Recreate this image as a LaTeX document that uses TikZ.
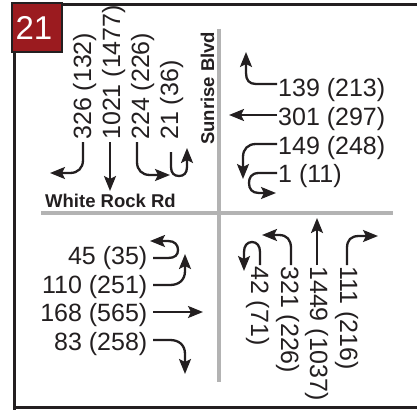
\documentclass[tikz,border=0pt]{standalone}
\usepackage{fontspec}
\setmainfont{Liberation Sans}
\usetikzlibrary{arrows.meta}
\definecolor{ink}{HTML}{231F20}
\definecolor{road}{HTML}{B3B3B3}
\definecolor{badge}{HTML}{9B1B1F}
\begin{document}
\begin{tikzpicture}[x=1pt,y=-1pt,
  lbl/.style={font=\fontsize{25}{30}\selectfont, inner sep=0pt, text=ink},
  street/.style={font=\fontsize{18.5}{22}\selectfont\bfseries, inner sep=0pt, text=ink},
  mv/.style={draw=ink, line width=2.3pt, -{Stealth[length=15pt,width=12pt,inset=3pt]}},
  roadline/.style={draw=road, line width=4.5pt},
  frameline/.style={draw=ink, line width=3pt}]
\useasboundingbox (0,0) rectangle (417,409);
\clip (0,0) rectangle (417,409);
\fill[white] (0,0) rectangle (417,409);
% frame
\draw[frameline] (14,420) -- (14,4.5) -- (430,4.5);
\draw[frameline] (14,407.5) -- (430,407.5);
% badge
\draw[draw=ink, line width=2pt, fill=badge] (12,3) rectangle (62,52);
\node[text=white, font=\fontsize{33}{36}\selectfont, inner sep=0pt] (badge) at (34,28) {21};
% roads
\draw[roadline] (219,29) -- (219,382);
\draw[roadline] (41,213) -- (393,213);
% street names
\node[street, anchor=base west] (wr) at (45,207) {White Rock Rd};
\node[street, anchor=base west, rotate=90] (sb) at (214,145) {Sunrise Blvd};
% NE labels (westbound)
\node[lbl, anchor=base west] (e1) at (278,97) {139 (213)};
\node[lbl, anchor=base west] (e2) at (278,125.5) {301 (297)};
\node[lbl, anchor=base west] (e3) at (278,154) {149 (248)};
\node[lbl, anchor=base west] (e4) at (278,182.5) {1 (11)};
% SW labels (eastbound)
\node[lbl, anchor=base east] (w1) at (147.5,264.5) {45 (35)};
\node[lbl, anchor=base east] (w2) at (147.5,293) {110 (251)};
\node[lbl, anchor=base east] (w3) at (147.5,321.5) {168 (565)};
\node[lbl, anchor=base east] (w4) at (147.5,350) {83 (258)};
% NW labels (southbound)
\node[lbl, anchor=base west, rotate=90] (n1) at (91,140) {326 (132)};
\node[lbl, anchor=base west, rotate=90] (n2) at (120,140) {1021 (1477)};
\node[lbl, anchor=base west, rotate=90] (n3) at (149,140) {224 (226)};
\node[lbl, anchor=base west, rotate=90] (n4) at (178,140) {21 (36)};
% SE labels (northbound)
\node[lbl, anchor=base west, rotate=-90] (s1) at (251,266) {42 (71)};
\node[lbl, anchor=base west, rotate=-90] (s2) at (281,266) {321 (226)};
\node[lbl, anchor=base west, rotate=-90] (s3) at (310,266) {1449 (1037)};
\node[lbl, anchor=base west, rotate=-90] (s4) at (340,266) {111 (216)};
% NE arrows
\draw[mv] (277,84) -- (256,84) .. controls (249,84) and (246,80) .. (246,73) -- (246,52);
\draw[mv] (277,115) -- (229,115);
\draw[mv] (277,144) -- (256,144) .. controls (248,144) and (243,149) .. (243,157) -- (243,179);
\draw[mv] (277,173) -- (259,173) .. controls (251,173) and (249,178) .. (249,183) .. controls (249,189) and (252,193) .. (259,193) -- (276,193);
% NW arrows
\draw[mv] (83,142) -- (83,160) .. controls (83,168) and (78,173) .. (70,173) -- (50,173);
\draw[mv] (110,142) -- (110,191);
\draw[mv] (137,142) -- (137,162) .. controls (137,170) and (142,175) .. (150,175) -- (170,175);
\draw[mv] (171,152) -- (171,167) .. controls (171,173) and (174,176) .. (179,176) .. controls (184,176) and (187,173) .. (187,167) -- (187,148);
% SW arrows
\draw[mv] (153,258) -- (168,258) .. controls (175,258) and (178,255) .. (178,250) .. controls (178,245) and (175,241) .. (168,241) -- (150,241);
\draw[mv] (153,285) -- (170,285) .. controls (179,285) and (185,280) .. (185,271) -- (185,254);
\draw[mv] (153,312) -- (203,312);
\draw[mv] (153,340) -- (170,340) .. controls (179,340) and (185,345) .. (185,354) -- (185,374);
% SE arrows
\draw[mv] (260,265) -- (260,252) .. controls (260,246) and (257,242) .. (252,242) .. controls (247,242) and (244,246) .. (244,252) -- (244,271);
\draw[mv] (291,265) -- (291,248) .. controls (291,240) and (287,235) .. (279,235) -- (262,235);
\draw[mv] (317,265) -- (317,218);
\draw[mv] (347,265) -- (347,248) .. controls (347,240) and (351,236) .. (359,236) -- (378,236);
\end{tikzpicture}
\end{document}
